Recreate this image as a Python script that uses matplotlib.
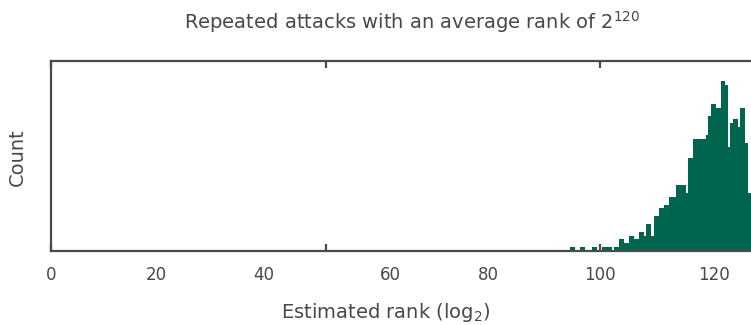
import numpy as np
import matplotlib
matplotlib.use("Agg")
import matplotlib.pyplot as plt

# ---- data ----
bin_start = 94.5      # log2 rank of first bin's left edge
bin_width = 0.45
counts = [1, 1, 0, 0, 1, 1, 0, 0, 0, 1, 1, 0, 0, 1, 1, 1, 1, 0, 1, 1,
          3, 3, 2, 2, 4, 4, 3, 3, 5, 5, 4, 7, 7, 4, 9, 9, 11, 11, 12, 12,
          14, 14, 14, 17, 17, 17, 17, 15, 24, 24, 29, 29, 29, 29, 29, 30, 35, 38, 38, 37,
          37, 44, 44, 43, 27, 33, 34, 34, 32, 37, 37, 28, 15, 15]
tick_labels = ["0", "20", "40", "60", "80", "100", "120"]
title = r"Repeated attacks with an average rank of $2^{120}$"
xlabel = r"Estimated rank (log$_2$)"
ylabel = "Count"

# ---- layout / style ----
label_pos = [0, 19.15, 38.7, 61.75, 79.7, 100.0, 120.7]
mark_pos = [0, 50, 100]
text_color = "#484848"
spine_color = "#4a4a4a"
bar_color = "#00654f"

W, H = 751, 325
fig = plt.figure(figsize=(W / 100, H / 100), dpi=100)
px_per_unit = 5.49
ax_left, ax_right, ax_top, ax_bottom = 51, 773, 61, 251
ax = fig.add_axes([ax_left / W, (H - ax_bottom) / H,
                   (ax_right - ax_left) / W, (ax_bottom - ax_top) / H])

lefts = bin_start + bin_width * np.arange(len(counts))
ax.bar(lefts, counts, width=bin_width, align="edge", color=bar_color,
       linewidth=0)

ax.set_xlim(0, (ax_right - ax_left) / px_per_unit)
ax.set_ylim(0, 49.1)

for s in ax.spines.values():
    s.set_color(spine_color)
    s.set_linewidth(1.6)

ax.xaxis.remove_overlapping_locs = False
ax.set_xticks(mark_pos)
ax.set_xticklabels([])
ax.tick_params(axis="x", which="major", direction="in", length=5, width=1.6,
               color=spine_color, top=True, bottom=True)
ax.set_xticks(label_pos, minor=True)
ax.set_xticklabels(tick_labels, minor=True)
ax.tick_params(axis="x", which="minor", length=0, pad=11, labelsize=12,
               labelcolor=text_color)
ax.set_yticks([])

fig.text(385.8 / W, 1 - 318.3 / H, xlabel, ha="center", va="baseline",
         fontsize=14, color=text_color)
fig.text(17 / W, 1 - 157 / H, ylabel, ha="center", va="center",
         rotation=90, fontsize=14, color=text_color)
fig.text(411.7 / W, 1 - 28.3 / H, title, ha="center", va="baseline",
         fontsize=14, color=text_color)

fig.savefig("out.png", dpi=100)
